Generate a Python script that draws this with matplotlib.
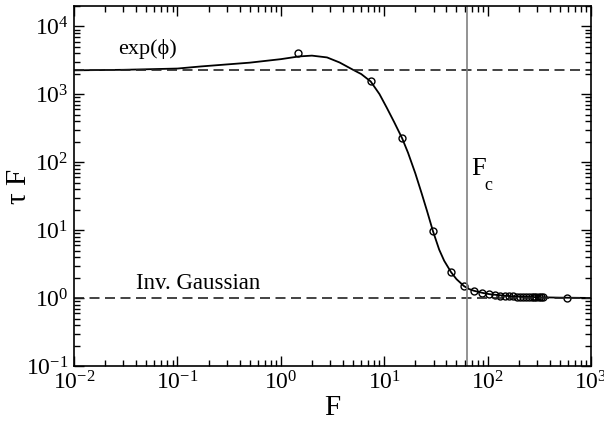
import numpy as np
import matplotlib
matplotlib.use("Agg")
import matplotlib.pyplot as plt
from matplotlib.ticker import LogLocator, NullFormatter, LogFormatterMathtext

plt.rcParams['font.family'] = ['Liberation Serif', 'DejaVu Serif']
plt.rcParams['mathtext.fontset'] = 'custom'
plt.rcParams['mathtext.rm'] = 'Liberation Serif'
plt.rcParams['mathtext.it'] = 'Liberation Serif:italic'

# theory curve
curve_F = [0.01, 0.03, 0.1, 0.17, 0.5, 1.0, 1.5, 2.0, 2.8, 3.7, 5.0, 6.0,
           7.4, 9.0, 10.6, 12.5, 14.9, 17, 20, 23, 26, 29.6, 34, 38, 44.3,
           50, 59.2, 66, 74, 90, 105, 150, 200, 300, 500, 1000]
curve_tau = [2260, 2300, 2400, 2580, 2930, 3300, 3620, 3720, 3500, 2950,
             2300, 1990, 1550, 1009, 634, 389, 226, 138, 68.6, 35, 19, 9.7,
             5.18, 3.55, 2.41, 1.90, 1.50, 1.36, 1.28, 1.19, 1.14, 1.08,
             1.05, 1.03, 1.015, 1.005]

# simulation points
sim_F = [1.48, 7.4, 14.8, 29.6, 44.4, 59.2, 74, 88.8, 103.6, 118.4, 133.2,
         148, 162.8, 177.6, 192.4, 207.2, 222, 236.8, 251.6, 266.4, 281.2,
         296, 310.8, 325.6, 340.4, 592]
sim_tau = [4010, 1553, 225, 9.7, 2.41, 1.50, 1.28, 1.19, 1.14, 1.11, 1.09,
           1.08, 1.07, 1.06, 1.055, 1.05, 1.045, 1.04, 1.038, 1.035, 1.033,
           1.03, 1.028, 1.026, 1.025, 1.01]

exp_phi = 2250
inv_gauss = 1.0
F_c = 63

fig = plt.figure(figsize=(6.04, 4.24), dpi=100)
ax = fig.add_axes([0.1225, 0.1368, 0.856, 0.849])

ax.plot(curve_F, curve_tau, color='black', lw=1.3)
ax.plot(sim_F, sim_tau, 'o', mfc='none', mec='black', ms=5, mew=1.0)
ax.axhline(exp_phi, color='#222222', lw=1.2, dashes=(6, 3.3))
ax.axhline(inv_gauss, color='#222222', lw=1.2, dashes=(6, 3.3))
ax.axvline(F_c, color='#808080', lw=1.2)

ax.text(0.027, 4600, 'exp(ϕ)', fontsize=16, ha='left', va='center')
ax.text(0.040, 1.62, 'Inv. Gaussian', fontsize=16.5, ha='left', va='center')
ax.text(69, 79, 'F', fontsize=19, ha='left', va='center')
ax.text(93, 45, 'c', fontsize=13, ha='left', va='center')

ax.set_xscale('log')
ax.set_yscale('log')
ax.set_xlim(1e-2, 1e3)
ax.set_ylim(1e-1, 2e4)

for axis in (ax.xaxis, ax.yaxis):
    axis.set_major_locator(LogLocator(base=10, numticks=10))
    axis.set_minor_locator(LogLocator(base=10, subs=np.arange(2, 10), numticks=20))
    axis.set_minor_formatter(NullFormatter())
    axis.set_major_formatter(LogFormatterMathtext())

ax.tick_params(which='both', direction='in', top=True, right=True, width=1.0)
ax.tick_params(which='major', length=7.5, labelsize=17, pad=4)
ax.tick_params(which='minor', length=4)
for s in ax.spines.values():
    s.set_linewidth(1.2)

ax.set_xlabel('F', fontsize=21, labelpad=0)
ax.set_ylabel('τ F', fontsize=21)
ax.yaxis.set_label_coords(-0.082, 0.5)

fig.savefig('out.png', dpi=100)
